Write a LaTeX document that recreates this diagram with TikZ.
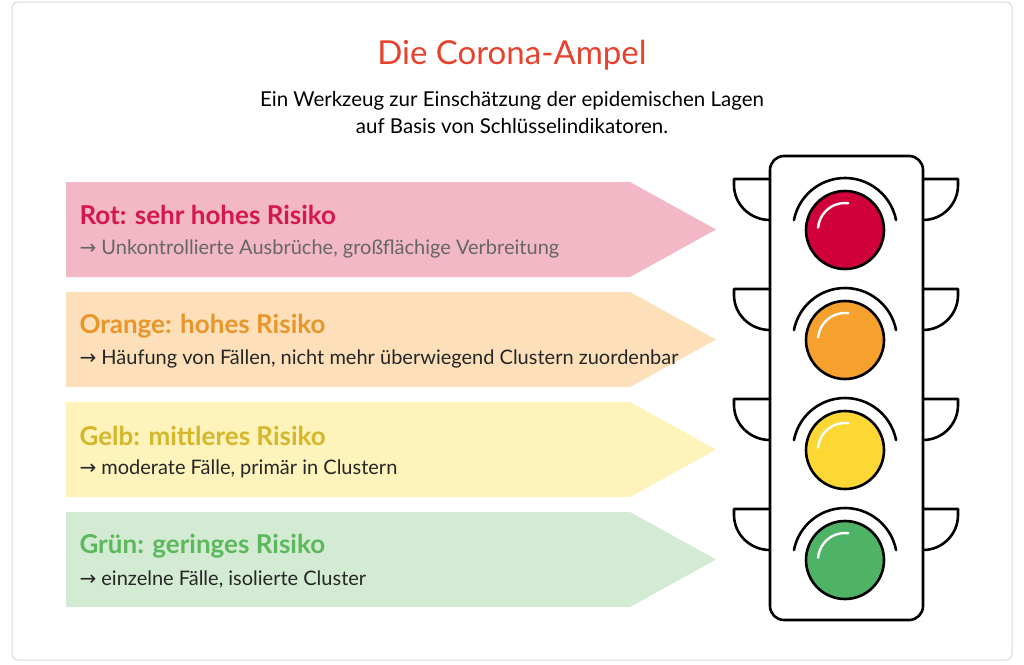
\documentclass[tikz,border=0pt]{standalone}
\usepackage{fontspec}
\setmainfont{Lato}
\newfontfamily\symfont{DejaVu Sans}
\definecolor{titlered}{HTML}{E8412C}
\definecolor{rotc}{HTML}{D6174F}
\definecolor{orangec}{HTML}{E8962A}
\definecolor{gelbc}{HTML}{D6B62A}
\definecolor{gruenc}{HTML}{5CB85C}
\definecolor{rotbg}{HTML}{F2B8C6}
\definecolor{orangebg}{HTML}{FDE0B9}
\definecolor{gelbbg}{HTML}{FDF3BB}
\definecolor{gruenbg}{HTML}{D3EBD3}
\definecolor{lred}{HTML}{D0003A}
\definecolor{lorange}{HTML}{F6A02D}
\definecolor{lyellow}{HTML}{FDD835}
\definecolor{lgreen}{HTML}{4FB365}
\tikzset{
  head/.style={anchor=west,font=\bfseries\fontsize{26}{30}\selectfont},
  sub/.style={anchor=west,font=\fontsize{20}{24}\selectfont,text=black!85},
  lamp/.style={line width=2.6pt,line join=round,line cap=round}
}
\newcommand{\arr}{{\symfont→}}
\begin{document}
\begin{tikzpicture}[x=1pt,y=-1pt]
  \useasboundingbox (0,0) rectangle (1024,664);
  \draw[gray!30,line width=1pt,rounded corners=6pt] (12,2) rectangle (1012,660);

  \node (title) at (512,55) {\fontsize{33}{38}\selectfont\color{titlered}Die Corona-Ampel};
  \node[align=center,font=\fontsize{20.5}{27}\selectfont] (subtitle) at (512,113)
    {Ein Werkzeug zur Einschätzung der epidemischen Lagen\\auf Basis von Schlüsselindikatoren.};

  % Pfeile
  \foreach \y/\bg in {182/rotbg,292/orangebg,402/gelbbg,512/gruenbg}
    \fill[\bg] (66,\y) -- (630,\y) -- (716,\y+47.5) -- (630,\y+95) -- (66,\y+95) -- cycle;

  \node[head,text=rotc] (rot) at (76,215) {Rot: sehr hohes Risiko};
  \node[sub,text=black!60] (rotsub) at (76,249) {\arr\ Unkontrollierte Ausbrüche, großflächige Verbreitung};
  \node[head,text=orangec] (orange) at (76,326) {Orange: hohes Risiko};
  \node[sub] (orangesub) at (76,359) {\arr\ Häufung von Fällen, nicht mehr überwiegend Clustern zuordenbar};
  \node[head,text=gelbc] (gelb) at (76,436) {Gelb: mittleres Risiko};
  \node[sub] (gelbsub) at (76,469) {\arr\ moderate Fälle, primär in Clustern};
  \node[head,text=gruenc] (gruen) at (76,546) {Grün: geringes Risiko};
  \node[sub] (gruensub) at (76,579) {\arr\ einzelne Fälle, isolierte Cluster};

  % Ampel
  \foreach \y in {230,340,450,560}{
    \draw[lamp] (770,\y-51) -- (734,\y-51) -- (734,\y-45) arc (180:90:36 and 35);
    \draw[lamp] (923,\y-51) -- (958,\y-51) -- (958,\y-45) arc (0:90:35 and 35);
  }
  \draw[lamp,fill=white,rounded corners=14pt] (770,156) rectangle (923,620);
  \foreach \y/\c in {230/lred,340/lorange,450/lyellow,560/lgreen}{
    \draw[lamp,fill=\c] (845,\y) circle (39);
    \draw[lamp] (845,\y) ++(-11:52) arc (-11:-169:52);
    \draw[white,line width=2.4pt,line cap=round] (845,\y) ++(-83:27) arc (-83:-175:27);
  }
\end{tikzpicture}
\end{document}
